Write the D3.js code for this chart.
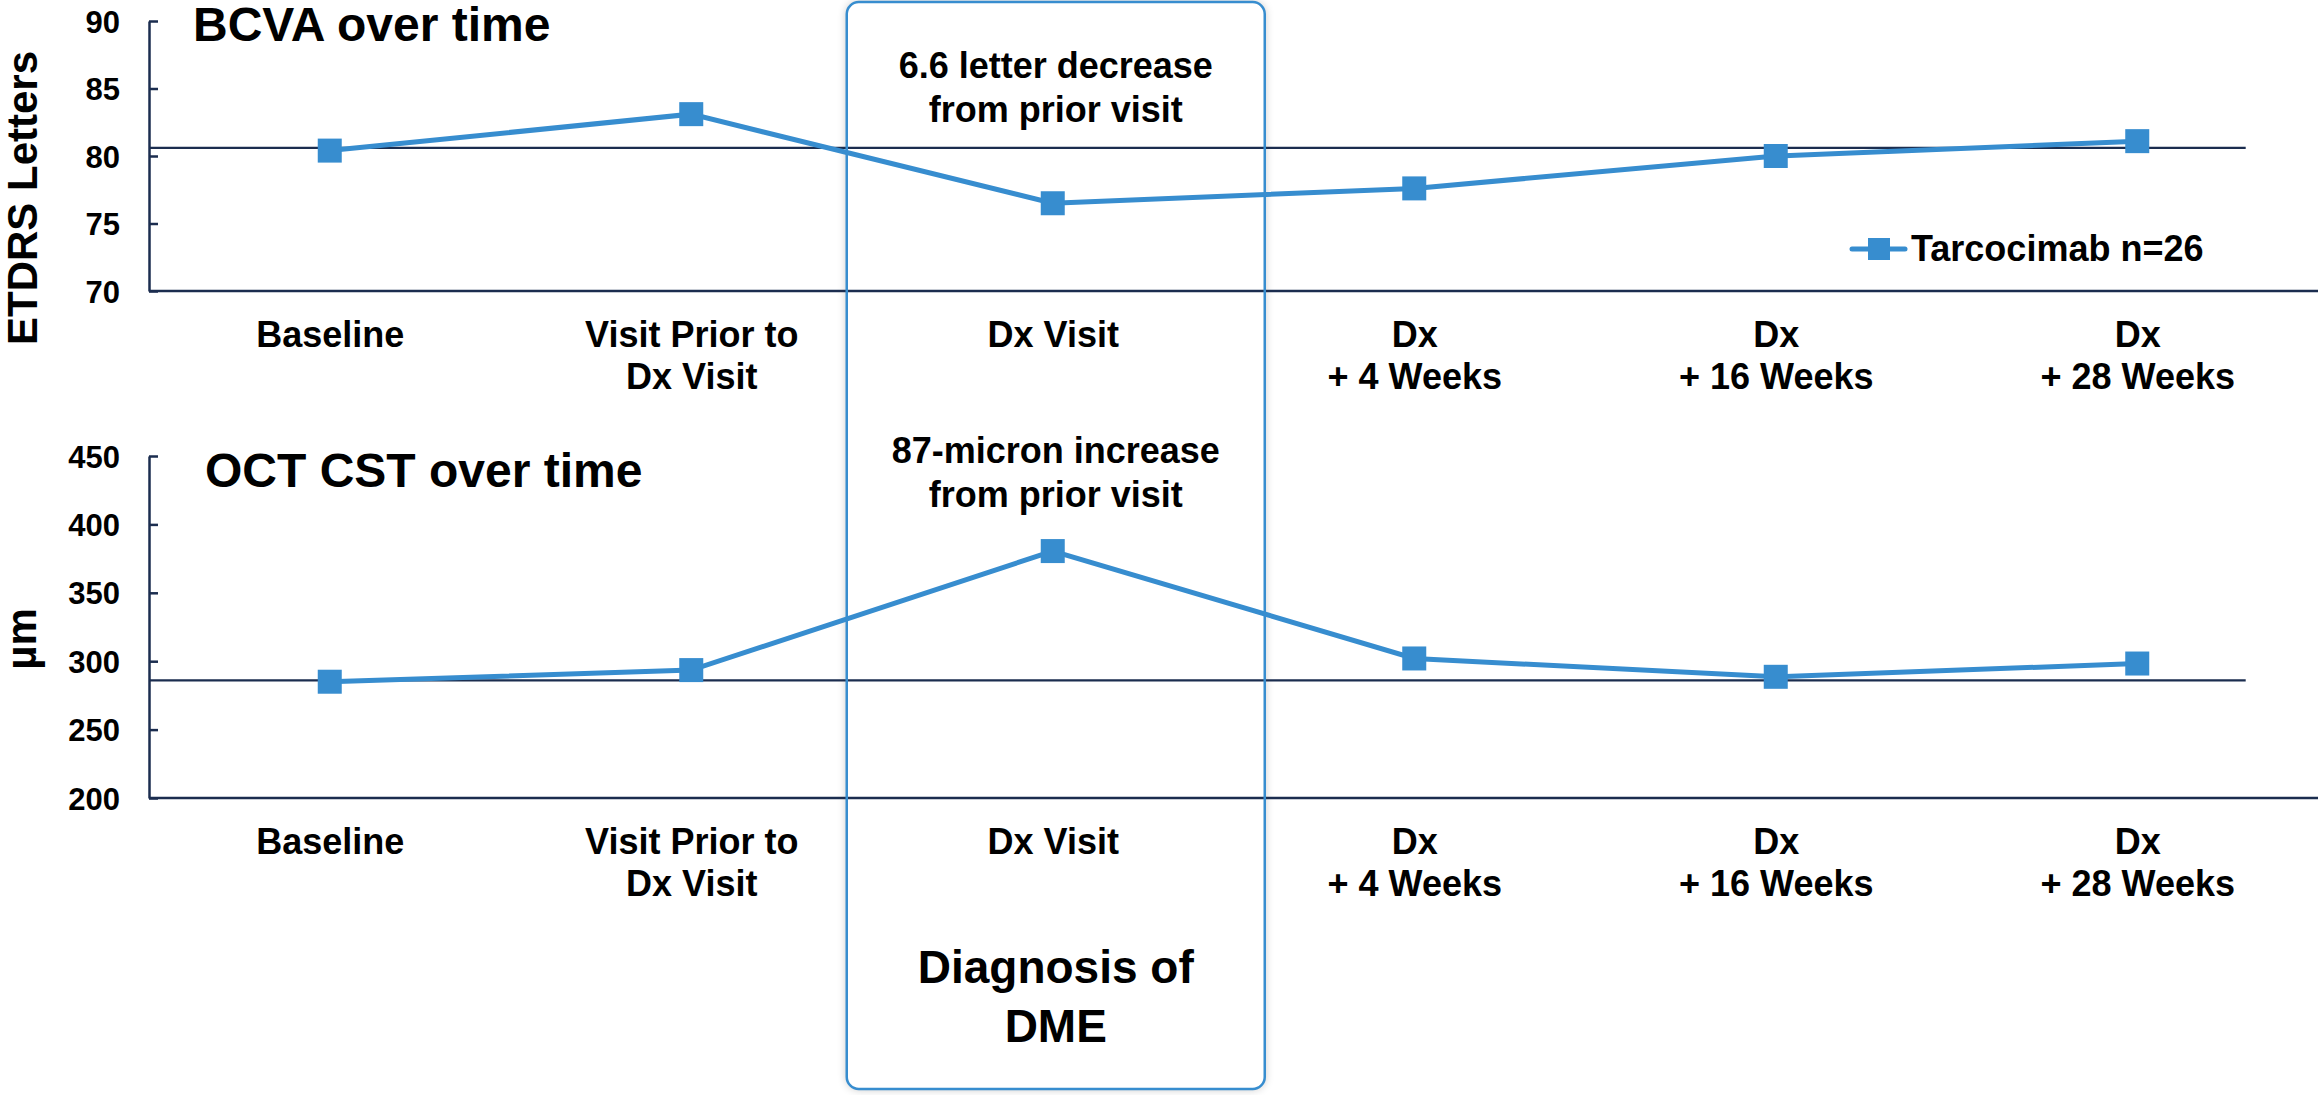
<!DOCTYPE html>
<html>
<head>
<meta charset="utf-8">
<script src="https://cdn.jsdelivr.net/npm/d3@7"></script>
<style>
  body { margin: 0; background: #fff; }
  svg text { font-family: "Liberation Sans", Arial, sans-serif; font-weight: bold; fill: #000; }
  .axis .domain { stroke: #1b2d4f; stroke-width: 2.5; }
  .axis .tick line { stroke: #1b2d4f; stroke-width: 2.5; }
</style>
</head>
<body>
<script>
// visits on the x axis (\n = line break)
const visits = ["Baseline", "Visit Prior to\nDx Visit", "Dx Visit", "Dx\n+ 4 Weeks", "Dx\n+ 16 Weeks", "Dx\n+ 28 Weeks"];

// BCVA, ETDRS letters
const bcva = [80.4, 83.1, 76.5, 77.6, 80.0, 81.1];
const bcvaRef = 80.6;
const bcvaTicks = [70, 75, 80, 85, 90];

// OCT CST, microns
const cst = [285, 293.5, 380.5, 302, 288.6, 298.3];
const cstRef = 286;
const cstTicks = [200, 250, 300, 350, 400, 450];

const seriesName = "Tarcocimab n=26";
const blue = "#378dcf";
const navy = "#1b2d4f";

const W = 2318, H = 1095;

const svg = d3.select(document.body).append('svg')
  .attr('width', W)
  .attr('height', H);

const defs = svg.append('defs');
const shadow = defs.append('filter').attr('id', 'shadow')
  .attr('x', '-10%').attr('y', '-10%').attr('width', '120%').attr('height', '120%');
shadow.append('feGaussianBlur').attr('in', 'SourceAlpha').attr('stdDeviation', 5);
shadow.append('feComponentTransfer').append('feFuncA').attr('type', 'linear').attr('slope', 0.25);
const merge = shadow.append('feMerge');
merge.append('feMergeNode');
merge.append('feMergeNode').attr('in', 'SourceGraphic');

const x = d3.scalePoint()
  .domain(visits)
  .range([149, W])
  .padding(0.5);

// diagnosis box, back layer (white with soft shadow)
const boxX = x("Dx Visit") - 206, boxW = 418, boxY = 2, boxH = 1087;
svg.append('rect')
  .attr('x', boxX).attr('y', boxY)
  .attr('width', boxW).attr('height', boxH)
  .attr('rx', 12)
  .attr('fill', '#fff')
  .attr('filter', 'url(#shadow)');

function drawPanel(opts) {
  const y = d3.scaleLinear().domain(opts.domain).range(opts.range);
  const g = svg.append('g');

  // y axis
  g.append('g')
    .attr('class', 'axis')
    .attr('transform', `translate(${x.range()[0]},0)`)
    .call(d3.axisLeft(y).tickValues(opts.ticks).tickSizeInner(-9).tickSizeOuter(0).tickPadding(29))
    .call(a => a.selectAll('.tick text').style('font-size', '31px').attr('dy', '0.36em'));

  // x axis with multi-line labels
  const xAxis = g.append('g')
    .attr('class', 'axis')
    .attr('transform', `translate(0,${opts.range[0]})`)
    .call(d3.axisBottom(x).tickSize(0).tickSizeOuter(0));
  xAxis.select('.domain').attr('d', `M${x.range()[0]},0H${x.range()[1]}`);
  xAxis.selectAll('.tick text')
    .text(null)
    .attr('y', 0).attr('dy', null)
    .style('font-size', '36px')
    .each(function(d) {
      d.split('\n').forEach((line, i) => {
        d3.select(this).append('tspan')
          .attr('x', 0)
          .attr('y', 56 + i * 42)
          .text(line);
      });
    });

  // reference line at baseline value
  g.append('line')
    .attr('x1', x.range()[0])
    .attr('x2', x(visits[visits.length - 1]) + x.step() * 0.3)
    .attr('y1', y(opts.ref)).attr('y2', y(opts.ref))
    .attr('stroke', navy)
    .attr('stroke-width', 2.2);

  // series
  g.append('path')
    .datum(opts.values)
    .attr('fill', 'none')
    .attr('stroke', blue)
    .attr('stroke-width', 5)
    .attr('d', d3.line().x((d, i) => x(visits[i])).y(d => y(d)));

  g.selectAll('.marker')
    .data(opts.values)
    .enter().append('rect')
    .attr('class', 'marker')
    .attr('x', (d, i) => x(visits[i]) - 12)
    .attr('y', d => y(d) - 12)
    .attr('width', 24).attr('height', 24)
    .attr('fill', blue);

  // y label
  g.append('text')
    .attr('transform', `translate(${opts.labelX},${opts.labelY}) rotate(-90)`)
    .attr('text-anchor', 'middle')
    .style('font-size', '42px')
    .text(opts.yLabel);

  // panel title
  g.append('text')
    .attr('x', opts.titleX).attr('y', opts.titleY)
    .style('font-size', '48px')
    .text(opts.title);

  // annotation above the diagnosis point
  opts.note.forEach((line, i) => {
    g.append('text')
      .attr('x', x("Dx Visit") + 3)
      .attr('y', opts.noteY + i * 44)
      .attr('text-anchor', 'middle')
      .style('font-size', '36px')
      .text(line);
  });

  return { g, y };
}

drawPanel({
  domain: [70, 90], range: [291, 21], ticks: bcvaTicks,
  values: bcva, ref: bcvaRef,
  yLabel: "ETDRS Letters", labelX: 37, labelY: 198,
  title: "BCVA over time", titleX: 193, titleY: 41,
  note: ["6.6 letter decrease", "from prior visit"], noteY: 78
});

drawPanel({
  domain: [200, 450], range: [798, 456], ticks: cstTicks,
  values: cst, ref: cstRef,
  yLabel: "µm", labelX: 36, labelY: 639,
  title: "OCT CST over time", titleX: 205, titleY: 487,
  note: ["87-micron increase", "from prior visit"], noteY: 463
});

// legend
const legend = svg.append('g').attr('transform', 'translate(1852,249)');
legend.append('line')
  .attr('x1', 0).attr('x2', 53)
  .attr('stroke', blue).attr('stroke-width', 5).attr('stroke-linecap', 'round');
legend.append('rect')
  .attr('x', 16).attr('y', -11).attr('width', 22).attr('height', 22)
  .attr('fill', blue);
legend.append('text')
  .attr('x', 59).attr('y', 12)
  .style('font-size', '36px')
  .text(seriesName);

// diagnosis box outline + label
svg.append('rect')
  .attr('x', boxX).attr('y', boxY)
  .attr('width', boxW).attr('height', boxH)
  .attr('rx', 12)
  .attr('fill', 'none')
  .attr('stroke', blue)
  .attr('stroke-width', 2.5);

["Diagnosis of", "DME"].forEach((line, i) => {
  svg.append('text')
    .attr('x', x("Dx Visit") + 3)
    .attr('y', 983 + i * 59)
    .attr('text-anchor', 'middle')
    .style('font-size', '46px')
    .text(line);
});
</script>
</body>
</html>
